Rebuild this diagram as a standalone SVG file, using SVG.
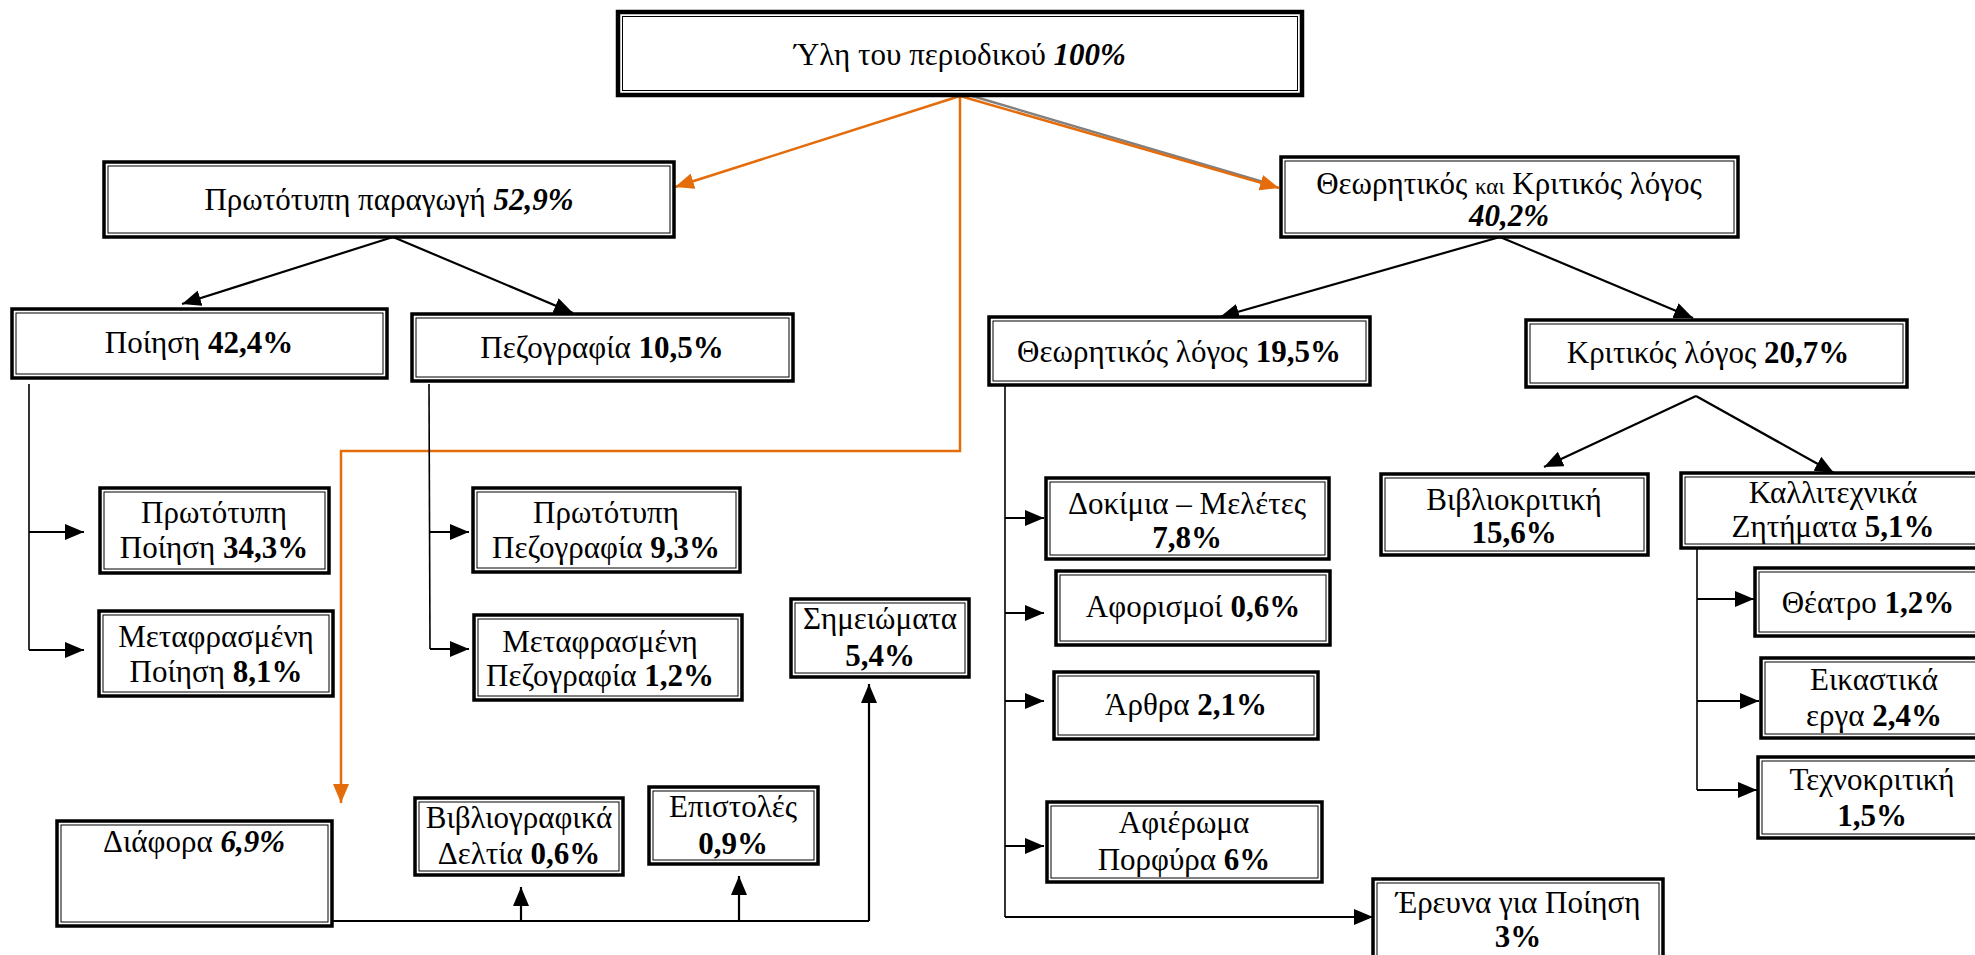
<svg xmlns="http://www.w3.org/2000/svg" width="1975" height="955" viewBox="0 0 1975 955">
<style>
.ob{fill:#fff;stroke:#000;stroke-width:3.5}
.ib{fill:none;stroke:#000;stroke-width:1}
.t{font-family:"Liberation Serif","Times New Roman",serif;font-size:31px;fill:#000;text-anchor:middle}
.b{font-weight:bold}
.bi{font-weight:bold;font-style:italic}
.sm{font-size:23px}
.c{stroke:#000;stroke-width:2.2;fill:none}
.cl{stroke:#000;stroke-width:1.6;fill:none}
.o{stroke:#E46C0A;stroke-width:2.5;fill:none}
.g{stroke:#808080;stroke-width:2.5;fill:none}
</style>
<defs>
<marker id="ab" markerUnits="userSpaceOnUse" markerWidth="19" markerHeight="16" refX="19" refY="8" orient="auto"><path d="M0,0 L19,8 L0,16 z" fill="#000"/></marker>
<marker id="ao" markerUnits="userSpaceOnUse" markerWidth="19" markerHeight="16" refX="19" refY="8" orient="auto"><path d="M0,0 L19,8 L0,16 z" fill="#E46C0A"/></marker>
</defs>
<rect width="1975" height="955" fill="#fff"/>
<g id="connectors">
<path class="o" d="M960,96 L960,451 L341,451 L341,803" marker-end="url(#ao)"/>
<path class="o" d="M960,96 L675,187" marker-end="url(#ao)"/>
<path class="g" d="M962,93 L1270,184"/>
<path class="o" d="M960,96 L1279,188" marker-end="url(#ao)"/>
<path class="c" d="M393,237 L182,304" marker-end="url(#ab)"/>
<path class="c" d="M393,237 L573,313" marker-end="url(#ab)"/>
<path class="c" d="M1500,237 L1220,317" marker-end="url(#ab)"/>
<path class="c" d="M1500,237 L1693,318" marker-end="url(#ab)"/>
<path class="c" d="M1696,396 L1544,467" marker-end="url(#ab)"/>
<path class="c" d="M1696,396 L1834,473" marker-end="url(#ab)"/>
<path class="cl" d="M29,384 L29,650"/>
<path class="c" d="M29,532 L84,532" marker-end="url(#ab)"/>
<path class="c" d="M29,650 L84,650" marker-end="url(#ab)"/>
<path class="cl" d="M429,384 L430,649"/>
<path class="c" d="M429,532 L469,532" marker-end="url(#ab)"/>
<path class="c" d="M430,649 L469,649" marker-end="url(#ab)"/>
<path class="cl" d="M1005,386 L1005,917"/>
<path class="c" d="M1005,518 L1044,518" marker-end="url(#ab)"/>
<path class="c" d="M1005,613 L1044,613" marker-end="url(#ab)"/>
<path class="c" d="M1005,701 L1044,701" marker-end="url(#ab)"/>
<path class="c" d="M1005,846 L1044,846" marker-end="url(#ab)"/>
<path class="c" d="M1005,917 L1373,917" marker-end="url(#ab)"/>
<path class="cl" d="M1697,548 L1697,790"/>
<path class="c" d="M1697,599 L1754,599" marker-end="url(#ab)"/>
<path class="c" d="M1697,701 L1759,701" marker-end="url(#ab)"/>
<path class="c" d="M1697,790 L1757,790" marker-end="url(#ab)"/>
<path class="c" d="M327,921 L869,921"/>
<path class="c" d="M521,921 L521,887" marker-end="url(#ab)"/>
<path class="c" d="M739,921 L739,876" marker-end="url(#ab)"/>
<path class="c" d="M869,921 L869,684" marker-end="url(#ab)"/>
</g>
<g id="n-yli"><rect class="ob" x="618" y="12" width="684" height="83" style="stroke-width:4.5"/><rect class="ib" x="622.5" y="16.5" width="675" height="74"/><text class="t" x="960" y="65">Ύλη του περιοδικού <tspan class="bi">100%</tspan></text></g>
<g id="n-prototypi-paragogi"><rect class="ob" x="104" y="162" width="570" height="75"/><rect class="ib" x="108" y="166" width="562" height="67"/><text class="t" x="389" y="210">Πρωτότυπη παραγωγή <tspan class="bi">52,9%</tspan></text></g>
<g id="n-theor-krit"><rect class="ob" x="1281" y="157" width="457" height="80"/><rect class="ib" x="1285" y="161" width="449" height="72"/><text class="t" x="1509" y="194">Θεωρητικός <tspan class="sm">και</tspan> Κριτικός λόγος</text><text class="t bi" x="1509" y="226">40,2%</text></g>
<g id="n-poiisi"><rect class="ob" x="12" y="309" width="375" height="69"/><rect class="ib" x="16" y="313" width="367" height="61"/><text class="t" x="199" y="353">Ποίηση <tspan class="b">42,4%</tspan></text></g>
<g id="n-pezografia"><rect class="ob" x="412" y="314" width="381" height="67"/><rect class="ib" x="416" y="318" width="373" height="59"/><text class="t" x="602" y="358">Πεζογραφία <tspan class="b">10,5%</tspan></text></g>
<g id="n-theoritikos"><rect class="ob" x="989" y="317" width="381" height="68"/><rect class="ib" x="993" y="321" width="373" height="60"/><text class="t" x="1179" y="362">Θεωρητικός λόγος <tspan class="b">19,5%</tspan></text></g>
<g id="n-kritikos"><rect class="ob" x="1526" y="320" width="381" height="67"/><rect class="ib" x="1530" y="324" width="373" height="59"/><text class="t" x="1708" y="363">Κριτικός λόγος <tspan class="b">20,7%</tspan></text></g>
<g id="n-proto-poiisi"><rect class="ob" x="100" y="488" width="229" height="85"/><rect class="ib" x="104" y="492" width="221" height="77"/><text class="t" x="214" y="523">Πρωτότυπη</text><text class="t" x="214" y="558">Ποίηση <tspan class="b">34,3%</tspan></text></g>
<g id="n-meta-poiisi"><rect class="ob" x="99" y="611" width="234" height="85"/><rect class="ib" x="103" y="615" width="226" height="77"/><text class="t" x="216" y="647">Μεταφρασμένη</text><text class="t" x="216" y="682">Ποίηση <tspan class="b">8,1%</tspan></text></g>
<g id="n-proto-pezo"><rect class="ob" x="473" y="488" width="267" height="84"/><rect class="ib" x="477" y="492" width="259" height="76"/><text class="t" x="606" y="523">Πρωτότυπη</text><text class="t" x="606" y="558">Πεζογραφία <tspan class="b">9,3%</tspan></text></g>
<g id="n-meta-pezo"><rect class="ob" x="474" y="615" width="268" height="85"/><rect class="ib" x="478" y="619" width="260" height="77"/><text class="t" x="600" y="652">Μεταφρασμένη</text><text class="t" x="600" y="686">Πεζογραφία <tspan class="b">1,2%</tspan></text></g>
<g id="n-simeiomata"><rect class="ob" x="791" y="599" width="178" height="78"/><rect class="ib" x="795" y="603" width="170" height="70"/><text class="t" x="880" y="629">Σημειώματα</text><text class="t b" x="880" y="666">5,4%</text></g>
<g id="n-diafora"><rect class="ob" x="57" y="821" width="275" height="105"/><rect class="ib" x="61" y="825" width="267" height="97"/><text class="t" x="194" y="852">Διάφορα <tspan class="bi">6,9%</tspan></text></g>
<g id="n-vivliografika"><rect class="ob" x="415" y="798" width="208" height="77"/><rect class="ib" x="419" y="802" width="200" height="69"/><text class="t" x="519" y="828">Βιβλιογραφικά</text><text class="t" x="519" y="864">Δελτία <tspan class="b">0,6%</tspan></text></g>
<g id="n-epistoles"><rect class="ob" x="649" y="787" width="169" height="77"/><rect class="ib" x="653" y="791" width="161" height="69"/><text class="t" x="733" y="817">Επιστολές</text><text class="t b" x="733" y="854">0,9%</text></g>
<g id="n-dokimia"><rect class="ob" x="1046" y="478" width="283" height="81"/><rect class="ib" x="1050" y="482" width="275" height="73"/><text class="t" x="1187" y="514">Δοκίμια – Μελέτες</text><text class="t b" x="1187" y="548">7,8%</text></g>
<g id="n-aforismoi"><rect class="ob" x="1056" y="571" width="274" height="74"/><rect class="ib" x="1060" y="575" width="266" height="66"/><text class="t" x="1193" y="617">Αφορισμοί <tspan class="b">0,6%</tspan></text></g>
<g id="n-arthra"><rect class="ob" x="1054" y="672" width="264" height="67"/><rect class="ib" x="1058" y="676" width="256" height="59"/><text class="t" x="1186" y="715">Άρθρα <tspan class="b">2,1%</tspan></text></g>
<g id="n-afieroma"><rect class="ob" x="1047" y="802" width="275" height="80"/><rect class="ib" x="1051" y="806" width="267" height="72"/><text class="t" x="1184" y="833">Αφιέρωμα</text><text class="t" x="1184" y="870">Πορφύρα <tspan class="b">6%</tspan></text></g>
<g id="n-erevna"><rect class="ob" x="1373" y="879" width="290" height="100"/><rect class="ib" x="1377" y="883" width="282" height="92"/><text class="t" x="1518" y="913">Έρευνα για Ποίηση</text><text class="t b" x="1518" y="947">3%</text></g>
<g id="n-vivliokritiki"><rect class="ob" x="1381" y="474" width="267" height="81"/><rect class="ib" x="1385" y="478" width="259" height="73"/><text class="t" x="1514" y="510">Βιβλιοκριτική</text><text class="t b" x="1514" y="543">15,6%</text></g>
<g id="n-kallitechnika"><rect class="ob" x="1681" y="473" width="304" height="75"/><rect class="ib" x="1685" y="477" width="296" height="67"/><text class="t" x="1833" y="503">Καλλιτεχνικά</text><text class="t" x="1833" y="537">Ζητήματα <tspan class="b">5,1%</tspan></text></g>
<g id="n-theatro"><rect class="ob" x="1755" y="568" width="226" height="68"/><rect class="ib" x="1759" y="572" width="218" height="60"/><text class="t" x="1868" y="613">Θέατρο <tspan class="b">1,2%</tspan></text></g>
<g id="n-eikastika"><rect class="ob" x="1761" y="658" width="226" height="80"/><rect class="ib" x="1765" y="662" width="218" height="72"/><text class="t" x="1874" y="690">Εικαστικά</text><text class="t" x="1874" y="726">εργα <tspan class="b">2,4%</tspan></text></g>
<g id="n-technokritiki"><rect class="ob" x="1758" y="757" width="228" height="81"/><rect class="ib" x="1762" y="761" width="220" height="73"/><text class="t" x="1872" y="790">Τεχνοκριτική</text><text class="t b" x="1872" y="826">1,5%</text></g>
</svg>
